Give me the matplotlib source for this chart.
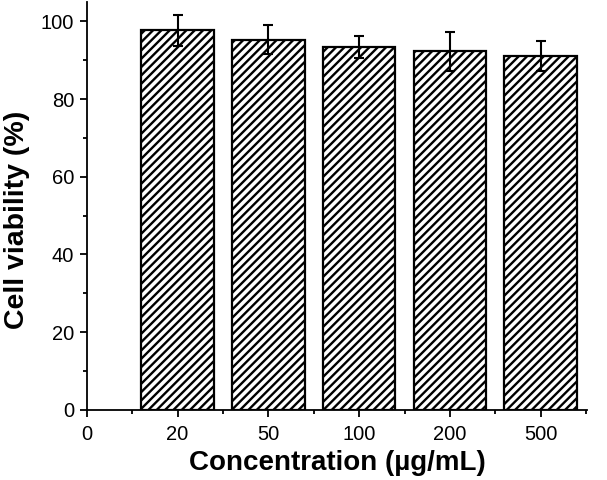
import numpy as np
import matplotlib
matplotlib.use('Agg')
import matplotlib.pyplot as plt
from matplotlib.ticker import MultipleLocator, FixedLocator

concentrations = ['20', '50', '100', '200', '500']
viability = [97.7, 95.3, 93.4, 92.3, 91.1]
viability_err = [4.0, 3.7, 2.8, 5.0, 3.9]

plt.rcParams['font.family'] = ['Liberation Sans', 'DejaVu Sans']
plt.rcParams['hatch.linewidth'] = 1.7

fig = plt.figure(figsize=(6.07, 4.8), dpi=100)
ax = fig.add_axes([0.143, 0.146, 0.824, 0.850])

pos = np.arange(1, len(concentrations) + 1)
ax.bar(pos, viability, width=0.8, color='white', edgecolor='black',
       linewidth=1.6, hatch='////', zorder=2)
ax.errorbar(pos, viability, yerr=viability_err, fmt='none', ecolor='black',
            elinewidth=1.5, capsize=3.5, capthick=1.5, zorder=3)

ax.set_xlim(0, 5.51)
ax.set_ylim(0, 105)
ax.set_xticks(np.arange(0, len(concentrations) + 1))
ax.set_xticklabels(['0'] + concentrations)
ax.xaxis.set_minor_locator(FixedLocator(np.arange(0.5, 6, 1)))
ax.yaxis.set_major_locator(MultipleLocator(20))
ax.yaxis.set_minor_locator(MultipleLocator(10))

for s in ['top', 'right']:
    ax.spines[s].set_visible(False)
for s in ['left', 'bottom']:
    ax.spines[s].set_linewidth(1.3)

ax.tick_params(which='major', direction='out', length=5, width=1.3, labelsize=14.5)
ax.tick_params(axis='x', which='major', pad=6)
ax.tick_params(axis='y', which='major', pad=4)
ax.tick_params(which='minor', direction='out', length=3, width=1.3)

ax.set_xlabel('Concentration (µg/mL)', fontsize=20, fontweight='bold', labelpad=4)
ax.set_ylabel('Cell viability (%)', fontsize=20.5, fontweight='bold')
ax.yaxis.set_label_coords(-0.113, 0.465)

fig.savefig('out.png', dpi=100)
